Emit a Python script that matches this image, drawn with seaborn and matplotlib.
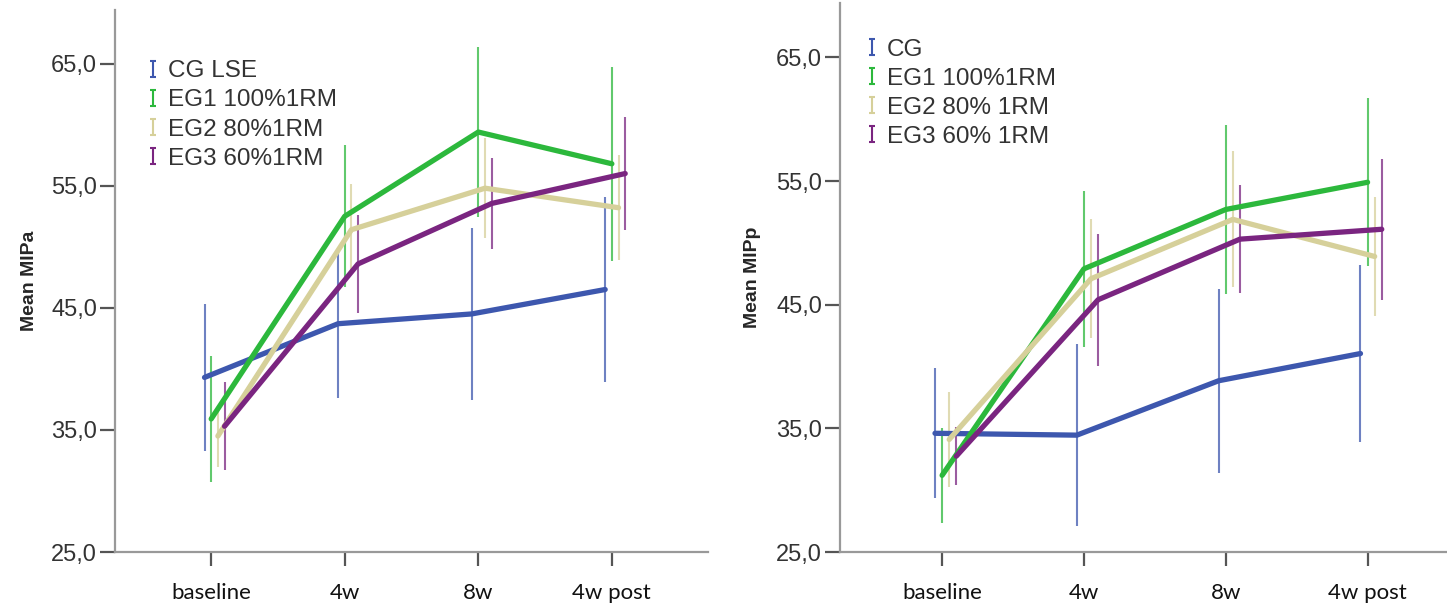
import numpy as np
import pandas as pd
import seaborn as sns
from matplotlib import pyplot as plt
from matplotlib.legend_handler import HandlerErrorbar
from matplotlib.container import ErrorbarContainer

# Data
timepoints = ['baseline', '4w', '8w', '4w post']
yticks = [25, 35, 45, 55, 65]

groups_a = ['CG LSE', 'EG1 100%1RM', 'EG2 80%1RM', 'EG3 60%1RM']
mipa_mean = {
    'CG LSE':      [39.3, 43.7, 44.5, 46.5],
    'EG1 100%1RM': [35.9, 52.5, 59.4, 56.8],
    'EG2 80%1RM':  [34.5, 51.4, 54.8, 53.2],
    'EG3 60%1RM':  [35.3, 48.6, 53.55, 56.0],
}
mipa_err = {
    'CG LSE':      [6.0, 6.1, 7.05, 7.6],
    'EG1 100%1RM': [5.15, 5.8, 6.95, 7.95],
    'EG2 80%1RM':  [2.5, 3.75, 4.1, 4.3],
    'EG3 60%1RM':  [3.6, 4.0, 3.75, 4.6],
}

groups_p = ['CG', 'EG1 100%1RM', 'EG2 80% 1RM', 'EG3 60% 1RM']
mipp_mean = {
    'CG':          [34.6, 34.45, 38.85, 41.05],
    'EG1 100%1RM': [31.2, 47.9, 52.7, 54.9],
    'EG2 80% 1RM': [34.1, 47.1, 51.9, 48.9],
    'EG3 60% 1RM': [32.75, 45.4, 50.3, 51.1],
}
mipp_err = {
    'CG':          [5.25, 7.35, 7.45, 7.15],
    'EG1 100%1RM': [3.85, 6.3, 6.8, 6.8],
    'EG2 80% 1RM': [3.85, 4.8, 5.5, 4.8],
    'EG3 60% 1RM': [2.35, 5.35, 4.35, 5.7],
}

colors = ['#3d57ae', '#2cb83c', '#d6d09a', '#7a2580']
dodge = [-0.05, 0.0, 0.05, 0.1]


def long_frame(groups, means, errs):
    rows = []
    for g, off in zip(groups, dodge):
        for i, t in enumerate(timepoints):
            rows.append({'group': g, 'time': t, 'xpos': i + off,
                         'mean': means[g][i], 'err': errs[g][i]})
    return pd.DataFrame(rows)


sns.set_style('white')
plt.rcParams['font.family'] = ['Liberation Sans', 'DejaVu Sans']

fig = plt.figure(figsize=(14.47, 6.07), dpi=100)
ax_a = fig.add_axes([0.0795, 0.0906, 0.4098, 0.893])
ax_p = fig.add_axes([0.5805, 0.0906, 0.4195, 0.9045])


def draw_panel(ax, groups, means, errs, ylabel, xlim, legend_anchor):
    df = long_frame(groups, means, errs)
    pal = dict(zip(groups, colors))
    sns.lineplot(data=df, x='xpos', y='mean', hue='group', hue_order=groups,
                 palette=pal, linewidth=3.8, estimator=None, legend=False,
                 ax=ax, zorder=3)
    for g in groups:
        sub = df[df.group == g]
        ax.vlines(sub.xpos, sub['mean'] - sub.err, sub['mean'] + sub.err,
                  colors=pal[g], linewidth=1.5, alpha=0.75, zorder=2)

    ax.set_xlim(*xlim)
    ax.set_ylim(25, 69.4)
    ax.set_xticks(range(len(timepoints)))
    ax.set_xticklabels(timepoints, fontsize=16, family=['Lato', 'DejaVu Sans'])
    ax.set_yticks(yticks)
    ax.set_yticklabels([f'{v:.1f}'.replace('.', ',') for v in yticks], fontsize=17)
    ax.tick_params(axis='y', direction='out', length=11, width=1.6,
                   color='#555555', pad=2, labelcolor='#333333', left=True)
    ax.tick_params(axis='x', direction='out', length=10, width=1.6,
                   color='#555555', pad=12, labelcolor='#111111', bottom=True)
    for s in ['top', 'right']:
        ax.spines[s].set_visible(False)
    for s in ['left', 'bottom']:
        ax.spines[s].set_color('#999999')
        ax.spines[s].set_linewidth(1.6)
    ax.set_xlabel('')
    ax.set_ylabel(ylabel, fontsize=14, fontweight='bold')
    ax.yaxis.set_label_coords(-0.13, 0.5)

    handles = []
    for c in colors:
        h = ax.errorbar([np.nan], [np.nan], yerr=[1], fmt='none', ecolor=c,
                        elinewidth=1.5, capsize=2.2, capthick=1.5)
        handles.append(h)
    ax.legend(handles, groups, loc='upper left', bbox_to_anchor=legend_anchor,
              frameon=False, fontsize=17.5, handlelength=0.45, handletextpad=0.4,
              labelspacing=0.29, borderaxespad=0, borderpad=0,
              labelcolor='#333333',
              handler_map={ErrorbarContainer: HandlerErrorbar(yerr_size=0.33)})


draw_panel(ax_a, groups_a, mipa_mean, mipa_err, 'Mean MIPa', (-0.72, 3.72),
           (0.054, 0.907))
draw_panel(ax_p, groups_p, mipp_mean, mipp_err, 'Mean MIPp', (-0.72, 3.56),
           (0.043, 0.935))

plt.savefig('out.png', dpi=100)
